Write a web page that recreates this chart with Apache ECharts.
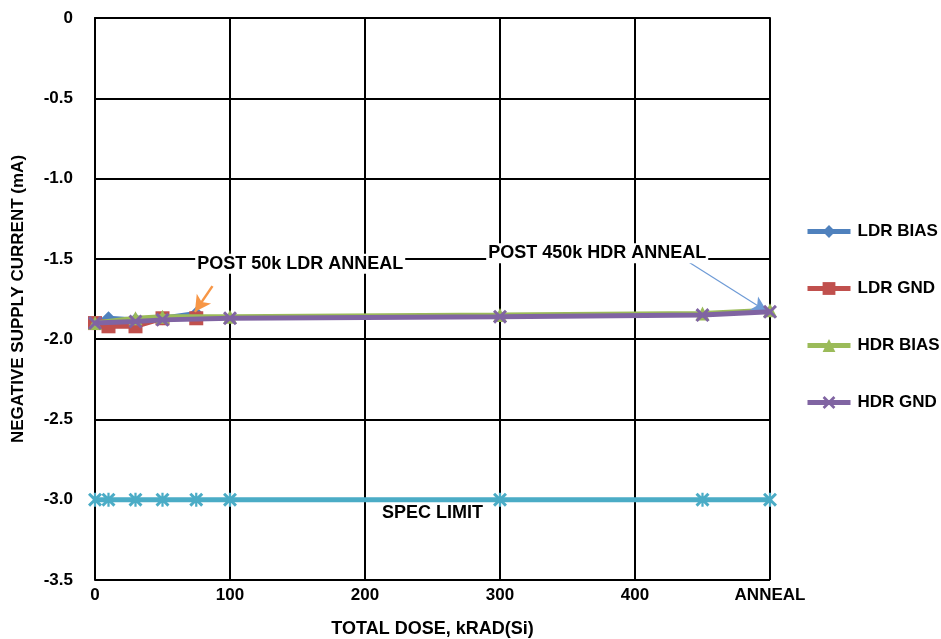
<!DOCTYPE html>
<html><head><meta charset="utf-8">
<script src="https://cdn.jsdelivr.net/npm/echarts@6/dist/echarts.min.js"></script>
<style>html,body{margin:0;padding:0;background:#fff}#c{width:941px;height:639px}</style>
</head><body><div id="c"></div>
<script>
var xLDR = [0, 10, 30, 50, 75];
var ldrBias = [-1.90, -1.87, -1.88, -1.87, -1.84];
var ldrGnd = [-1.90, -1.92, -1.92, -1.87, -1.87];
var xHDR = [0, 30, 50, 100, 300, 450, 500];
var hdrBias = [-1.90, -1.87, -1.86, -1.86, -1.85, -1.84, -1.82];
var hdrGnd = [-1.90, -1.89, -1.88, -1.87, -1.86, -1.85, -1.83];
var xSpec = [0, 10, 30, 50, 75, 100, 300, 450, 500];
var specVals = [-3, -3, -3, -3, -3, -3, -3, -3, -3];
var xTickLabels = {0:'0',100:'100',200:'200',300:'300',400:'400',500:'ANNEAL'};

function pairs(xs, ys){ return xs.map(function(x,i){return [x, ys[i]];}); }
var FONT = '"Liberation Sans", Arial, sans-serif';
var X_SYM = 'path://M0,1.5L1.5,0L5,3.5L8.5,0L10,1.5L6.5,5L10,8.5L8.5,10L5,6.5L1.5,10L0,8.5L3.5,5Z';
var STAR_SYM = 'path://M0,1.5L1.5,0L5,3.5L8.5,0L10,1.5L6.5,5L10,8.5L8.5,10L5,6.5L1.5,10L0,8.5L3.5,5Z M4.2,0L5.8,0L5.8,10L4.2,10Z';

var chart = echarts.init(document.getElementById('c'));
function ts(size){ return {fontFamily: FONT, fontWeight: 'bold', fontSize: size, color: '#000'}; }
chart.setOption({
  animation: false,
  backgroundColor: '#fff',
  grid: {left: 95, right: 171, top: 18, bottom: 59, containLabel: false, outerBoundsMode: 'none'},
  legend: {
    orient: 'vertical', left: 800, top: 218, itemWidth: 43, itemHeight: 16, itemGap: 40,
    data: ['LDR BIAS', 'LDR GND', 'HDR BIAS', 'HDR GND'],
    lineStyle: {width: 5},
    textStyle: Object.assign({padding: [0, 0, 0, 2]}, ts(17))
  },
  xAxis: {
    type: 'value', min: 0, max: 500, interval: 100,
    name: 'TOTAL DOSE, kRAD(Si)', nameLocation: 'middle', nameGap: 40,
    nameTextStyle: ts(18),
    axisLine: {lineStyle: {color: '#000', width: 2}},
    axisTick: {show: false},
    splitLine: {show: true, lineStyle: {color: '#000', width: 2}},
    axisLabel: Object.assign({margin: 7, formatter: function(v){return xTickLabels[v] || '';}}, ts(17))
  },
  yAxis: {
    type: 'value', min: -3.5, max: 0, interval: 0.5,
    name: 'NEGATIVE SUPPLY CURRENT (mA)', nameLocation: 'middle', nameGap: 68,
    nameTextStyle: ts(17),
    axisLine: {show: true, lineStyle: {color: '#000', width: 2}},
    axisTick: {show: false},
    splitLine: {show: true, lineStyle: {color: '#000', width: 2}},
    axisLabel: Object.assign({margin: 22, formatter: function(v){return v === 0 ? '0' : v.toFixed(1);}}, ts(17))
  },
  series: [
    {name: 'LDR BIAS', type: 'line', data: pairs(xLDR, ldrBias), color: '#4F81BD',
     symbol: 'diamond', symbolSize: 14, lineStyle: {width: 5}, z: 2},
    {name: 'LDR GND', type: 'line', data: pairs(xLDR, ldrGnd), color: '#C0504D',
     symbol: 'rect', symbolSize: 14, lineStyle: {width: 5}, z: 3,
     markPoint: {symbol: 'rect', symbolSize: 0, silent: true,
       data: [{coord: [152, -1.53], value: 'POST 50k LDR ANNEAL'}],
       label: Object.assign({show: true, position: 'inside', formatter: 'POST 50k LDR ANNEAL', backgroundColor: '#fff', padding: [1, 2]}, ts(18))},
     markLine: {silent: true, symbol: ['none', 'arrow'], symbolSize: [13, 16],
       lineStyle: {color: '#F79646', width: 2.5, type: 'solid'}, label: {show: false},
       data: [[{coord: [87, -1.67]}, {coord: [74, -1.83]}]]}},
    {name: 'HDR BIAS', type: 'line', data: pairs(xHDR, hdrBias), color: '#9BBB59',
     symbol: 'triangle', symbolSize: 14, lineStyle: {width: 5}, z: 4},
    {name: 'HDR GND', type: 'line', data: pairs(xHDR, hdrGnd), color: '#8064A2',
     symbol: X_SYM, symbolSize: 14, lineStyle: {width: 5}, z: 5,
     markPoint: {symbol: 'rect', symbolSize: 0, silent: true,
       data: [{coord: [372, -1.465], value: 'POST 450k HDR ANNEAL'}],
       label: Object.assign({show: true, position: 'inside', formatter: 'POST 450k HDR ANNEAL', backgroundColor: '#fff', padding: [1, 2]}, ts(18))},
     markLine: {silent: true, symbol: ['none', 'arrow'], symbolSize: [12, 16],
       lineStyle: {color: '#6E9BD6', width: 1.2, type: 'solid'}, label: {show: false},
       data: [[{coord: [435, -1.495]}, {coord: [498, -1.83]}]]}},
    {name: 'SPEC LIMIT', type: 'line', data: pairs(xSpec, specVals), color: '#4BACC6',
     symbol: STAR_SYM, symbolSize: 14, lineStyle: {width: 5}, z: 2,
     markPoint: {symbol: 'rect', symbolSize: 0, silent: true,
       data: [{coord: [250, -3.08], value: 'SPEC LIMIT'}],
       label: Object.assign({show: true, position: 'inside', formatter: 'SPEC LIMIT'}, ts(18))}}
  ]
});
</script>
</body></html>
